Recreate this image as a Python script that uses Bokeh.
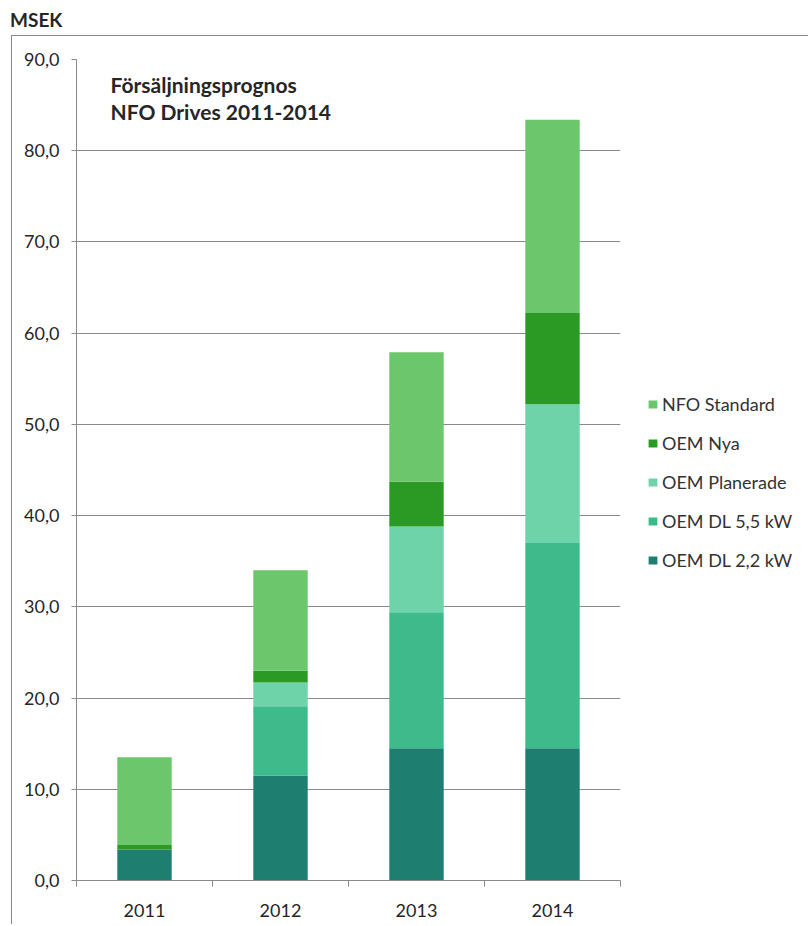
import numpy as np
from bokeh.plotting import figure
from bokeh.models import ColumnDataSource, FixedTicker, Legend, LegendItem, Label, Div, Range1d
from bokeh.layouts import column
from bokeh.embed import file_html
from bokeh.resources import INLINE

# ---- data ----
years = ["2011", "2012", "2013", "2014"]
series_names = ["OEM DL 2,2 kW", "OEM DL 5,5 kW", "OEM Planerade", "OEM Nya", "NFO Standard"]
oem_dl_22 = [3.4, 11.5, 14.5, 14.5]
oem_dl_55 = [0.0, 7.6, 14.9, 22.5]
oem_planerade = [0.0, 2.6, 9.4, 15.2]
oem_nya = [0.5, 1.3, 4.9, 10.0]
nfo_standard = [9.6, 11.0, 14.2, 21.2]
y_ticks = [0, 10, 20, 30, 40, 50, 60, 70, 80, 90]
colors = ["#1E7E70", "#3DBB8A", "#6ED3A8", "#2A9A25", "#6CC66B"]

FONT = "Lato"
TXT = "#262626"

x_pos = (np.arange(len(years)) + 0.5).tolist()
keys = ["dl22", "dl55", "plan", "nya", "nfo"]
src = ColumnDataSource(dict(x=x_pos, dl22=oem_dl_22, dl55=oem_dl_55, plan=oem_planerade,
                            nya=oem_nya, nfo=nfo_standard))

p = figure(frame_width=543, frame_height=820,
           x_range=Range1d(0, len(years)), y_range=Range1d(0, y_ticks[-1]),
           output_backend="svg", toolbar_location=None,
           min_border_left=64, min_border_right=187, min_border_top=23, min_border_bottom=45)
p.outline_line_color = None
p.background_fill_color = "white"
p.border_fill_color = "white"

renderers = p.vbar_stack(keys, x="x", width=0.4, source=src, color=colors, line_color=None)

# axes
p.xgrid.visible = False
p.ygrid.grid_line_color = "#8A8A8A"
p.ygrid.grid_line_width = 1
p.ygrid.ticker = FixedTicker(ticks=y_ticks)

p.yaxis.ticker = FixedTicker(ticks=y_ticks)
p.yaxis.major_label_overrides = {t: f"{t:.1f}".replace(".", ",") for t in y_ticks}
p.yaxis.axis_line_color = "#8A8A8A"
p.yaxis.major_tick_line_color = "#8A8A8A"
p.yaxis.major_tick_out = 5
p.yaxis.major_tick_in = 0
p.yaxis.minor_tick_line_color = None
p.yaxis.major_label_standoff = 12
p.yaxis.major_label_text_font = FONT
p.yaxis.major_label_text_font_size = "18px"
p.yaxis.major_label_text_color = TXT

p.xaxis.ticker = FixedTicker(ticks=x_pos, minor_ticks=list(range(len(years) + 1)))
p.xaxis.major_label_overrides = {x: y for x, y in zip(x_pos, years)}
p.xaxis.axis_line_color = "#8A8A8A"
p.xaxis.major_tick_line_color = None
p.xaxis.major_tick_out = 0
p.xaxis.major_tick_in = 0
p.xaxis.minor_tick_line_color = "#8A8A8A"
p.xaxis.minor_tick_out = 6
p.xaxis.minor_tick_in = 0
p.xaxis.major_label_standoff = 17
p.xaxis.major_label_text_font = FONT
p.xaxis.major_label_text_font_size = "18px"
p.xaxis.major_label_text_color = TXT

# in-plot title
for i, line in enumerate(["Försäljningsprognos", "NFO Drives 2011-2014"]):
    p.add_layout(Label(x=p.x_range.start, y=p.y_range.end, x_offset=34, y_offset=-25 - 27 * i,
                       text=line, text_font=FONT, text_font_style="bold",
                       text_font_size="21px", text_color=TXT, text_baseline="alphabetic"))

# legend (reversed order, like the reference)
items = [LegendItem(label=n, renderers=[r]) for n, r in zip(series_names, renderers)][::-1]
legend = Legend(items=items, location=(27, 309), orientation="vertical",
                glyph_width=11, glyph_height=10, label_standoff=4,
                label_height=22, spacing=17, padding=4, margin=0,
                border_line_color=None, background_fill_alpha=0,
                label_text_font=FONT, label_text_font_size="18px", label_text_color="#333333")
p.add_layout(legend, "right")

p.margin = (0, 0, 0, 11)
p.styles = {"border-top": "1px solid #8A8A8A", "border-left": "1px solid #8A8A8A"}

header = Div(text="MSEK", width=200, height=35,
             styles={"font-family": FONT, "font-weight": "bold", "font-size": "19px",
                     "color": TXT, "padding-left": "10px", "line-height": "40px",
                     "margin": "0", "overflow": "visible"})

layout = column(header, p, spacing=0)
open("out.html", "w").write(file_html(layout, INLINE))
